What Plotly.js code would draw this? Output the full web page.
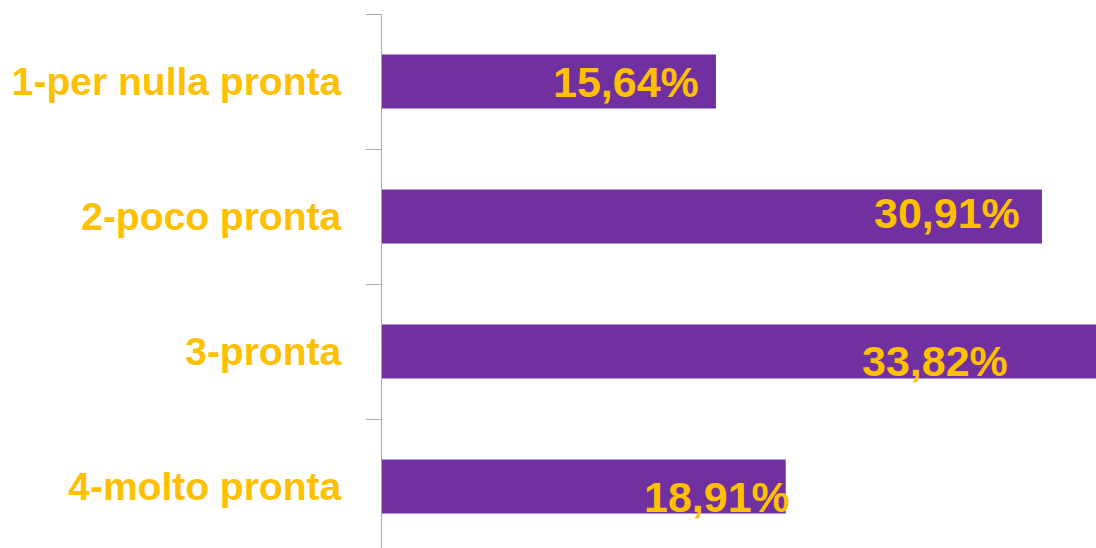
<!DOCTYPE html>
<html>
<head>
<meta charset="utf-8">
<script src="https://cdn.plot.ly/plotly-3.0.1.min.js"></script>
<style>
  html, body { margin: 0; padding: 0; overflow: hidden; background: #ffffff; }
  #chart { width: 1160px; height: 554px; }
</style>
</head>
<body>
<div id="chart"></div>
<script>
// ---- data ----
var categories = ['1-per nulla pronta', '2-poco pronta', '3-pronta', '4-molto pronta'];
var values = [15.64, 30.91, 33.82, 18.91];

// ---- label styling (pixel nudges for each value label) ----
var labelXShift = [-15, -20, -94, 6];
var labelYShift = [0, 4, -9, -10];

var purple = '#7030A0';
var gold = '#FFC000';

function fmt(v) {
  return v.toFixed(2).replace('.', ',') + '%';
}

var trace = {
  type: 'bar',
  orientation: 'h',
  x: values,
  y: categories,
  width: 0.4,
  marker: { color: purple, line: { width: 0 } },
  hoverinfo: 'none'
};

var annotations = values.map(function (v, i) {
  return {
    x: v,
    y: categories[i],
    xref: 'x',
    yref: 'y',
    text: fmt(v),
    showarrow: false,
    xanchor: 'right',
    yanchor: 'middle',
    xshift: labelXShift[i],
    yshift: labelYShift[i],
    font: { family: 'Liberation Sans, Arial, sans-serif', size: 43, color: gold, weight: 'bold' }
  };
});

var layout = {
  width: 1160,
  height: 554,
  margin: { l: 382, r: 0, t: 14, b: 0, pad: 0 },
  paper_bgcolor: '#ffffff',
  plot_bgcolor: '#ffffff',
  showlegend: false,
  bargap: 0.6,
  xaxis: {
    range: [0, 36.44],
    visible: false,
    showgrid: false,
    zeroline: false,
    fixedrange: true
  },
  yaxis: {
    type: 'category',
    autorange: 'reversed',
    showline: true,
    linecolor: '#ababab',
    linewidth: 1,
    ticks: 'outside',
    tickson: 'boundaries',
    ticklen: 15,
    tickwidth: 1,
    tickcolor: '#ababab',
    ticklabelstandoff: 32,
    showgrid: false,
    zeroline: false,
    tickfont: { family: 'Liberation Sans, Arial, sans-serif', size: 39, color: gold, weight: 'bold' },
    fixedrange: true
  },
  annotations: annotations
};

Plotly.newPlot('chart', [trace], layout, { displayModeBar: false, responsive: false, staticPlot: true });
</script>
</body>
</html>
